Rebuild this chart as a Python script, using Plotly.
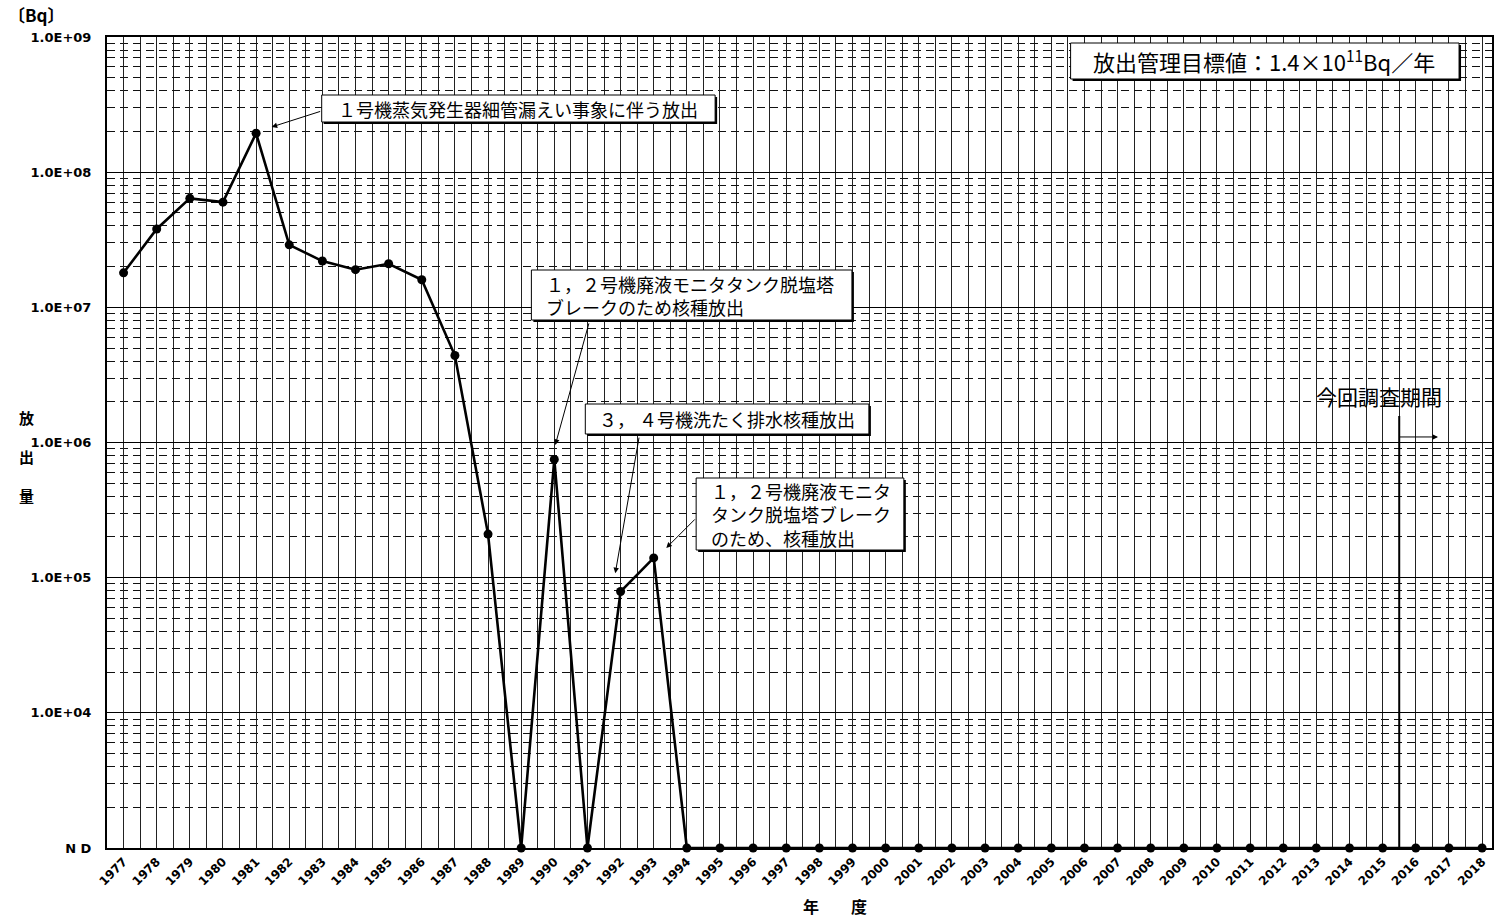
import math
import plotly.graph_objects as go

# Annual release (Bq); None = not detected (ND)
years = list(range(1977, 2019))
release = [1.8e7, 3.8e7, 6.4e7, 6.0e7, 1.94e8, 2.9e7, 2.2e7, 1.9e7, 2.1e7, 1.6e7,
           4.4e6, 2.1e5, None, 7.5e5, None, 7.9e4, 1.4e5] + [None] * 25

ND_LEVEL = 1e3
y_tickvals = [1e3, 1e4, 1e5, 1e6, 1e7, 1e8, 1e9]
y_ticktext = ["N D", "1.0E+04", "1.0E+05", "1.0E+06", "1.0E+07", "1.0E+08", "1.0E+09"]
x_ticktext = [str(y) for y in years]

plot_values = [v if v is not None else ND_LEVEL for v in release]

# plot-area pixel frame used to place boxes/text
L, R, T, B = 107, 1494, 37, 848
W, H = 1495, 919


def px(x):
    return (x - L) / (R - L)


def py(y):
    return (B - y) / (B - T)


CJK = "Noto Sans CJK JP"
LAT = "DejaVu Sans"

fig = go.Figure()
fig.add_trace(go.Scatter(
    x=years, y=plot_values, mode="lines+markers",
    line=dict(color="black", width=2.6),
    marker=dict(color="black", size=9),
    cliponaxis=False, showlegend=False, hoverinfo="skip",
))

fig.update_layout(
    width=W, height=H,
    margin=dict(l=L, r=W - R, t=T, b=H - B),
    paper_bgcolor="white", plot_bgcolor="white",
    font=dict(family=LAT, color="black"),
    xaxis=dict(
        type="linear", range=[1976.5, 2018.3],
        tickvals=years, ticktext=x_ticktext, tickangle=-45,
        tickfont=dict(family=LAT, size=12, color="black", weight="bold"),
        ticks="", showgrid=True, gridcolor="#222", gridwidth=1,
        minor=dict(dtick=1, tick0=1976.5, showgrid=True, gridcolor="#222", gridwidth=1, ticks=""),
        showline=True, linecolor="black", linewidth=2, mirror=True,
        zeroline=False, fixedrange=True, layer="below traces",
    ),
    yaxis=dict(
        type="log", range=[3 - 1e-6, 9],
        tickvals=y_tickvals, ticktext=y_ticktext,
        tickfont=dict(family=LAT, size=13, color="black", weight="bold"),
        ticks="", ticklabelstandoff=11,
        showgrid=True, gridcolor="black", gridwidth=1.2,
        minor=dict(dtick="D1", showgrid=True, gridcolor="#111", gridwidth=1,
                   griddash="8px,5px", ticks=""),
        showline=True, linecolor="black", linewidth=2, mirror=True,
        zeroline=False, fixedrange=True, layer="below traces",
    ),
)

shapes = []
annotations = []


def box(x0, y0, x1, y1):
    # drop shadow then white box with thin border
    shapes.append(dict(type="rect", xref="paper", yref="paper",
                       x0=px(x0 + 2), x1=px(x1 + 2), y0=py(y1 + 2), y1=py(y0 + 2),
                       fillcolor="black", line=dict(width=0), layer="above"))
    shapes.append(dict(type="rect", xref="paper", yref="paper",
                       x0=px(x0), x1=px(x1), y0=py(y1), y1=py(y0),
                       fillcolor="white", line=dict(color="black", width=1), layer="above"))


def label(text, x, y, size=17, xanchor="center", align="center", family=CJK, weight="normal"):
    annotations.append(dict(text=text, xref="paper", yref="paper", x=px(x), y=py(y),
                            xanchor=xanchor, yanchor="middle", align=align, showarrow=False,
                            font=dict(family=family, size=size, color="black", weight=weight)))


def arrow(year, value, ax, ay):
    annotations.append(dict(text="", x=year, y=math.log10(value), xref="x", yref="y",
                            ax=ax, ay=ay, axref="pixel", ayref="pixel",
                            showarrow=True, arrowhead=2, arrowsize=1.1, arrowwidth=1,
                            arrowcolor="black"))


# target value box
box(1072, 43, 1461, 79)
label("放出管理目標値：1.4×10<sup>11</sup>Bq／年", 1266, 61, size=22)

# event notes
box(322, 95, 716, 122)
label("１号機蒸気発生器細管漏えい事象に伴う放出", 519, 109, size=18)
arrow(1981.47, 2.16e8, 50, -16)

box(532, 270, 853, 320)
label("１，２号機廃液モニタタンク脱塩塔<br>ブレークのため核種放出", 545, 295,
      size=18, xanchor="left", align="left")
arrow(1990.03, 9.6e5, 34, -123)

box(586, 404, 870, 434)
label("３， ４号機洗たく排水核種放出", 728, 419, size=18)
arrow(1991.84, 1.08e5, 24, -137)

box(697, 478, 905, 550)
label("１，２号機廃液モニタ<br>タンク脱塩塔ブレーク<br>のため、核種放出", 710, 514,
      size=18, xanchor="left", align="left")
arrow(1993.38, 1.66e5, 30, -30)

# current survey period marker
shapes.append(dict(type="line", xref="x", yref="y", x0=2015.5, x1=2015.5,
                   y0=ND_LEVEL, y1=1.57e6, line=dict(color="black", width=2), layer="above"))
annotations.append(dict(text="", x=2016.67, y=6.041, xref="x", yref="y",
                        ax=-40, ay=0, axref="pixel", ayref="pixel",
                        showarrow=True, arrowhead=2, arrowsize=1.1, arrowwidth=1,
                        arrowcolor="black"))
label("今回調査期間", 1381, 396, size=21)

# axis titles
annotations.append(dict(text="〔Bq〕", xref="paper", yref="paper", x=px(6), y=py(15),
                        xanchor="left", yanchor="middle", showarrow=False,
                        font=dict(family=CJK, size=17, color="black", weight="bold")))
annotations.append(dict(text="放<br><br>出<br><br>量", xref="paper", yref="paper",
                        x=px(26), y=py(456), xanchor="center", yanchor="middle",
                        showarrow=False,
                        font=dict(family=CJK, size=15, color="black", weight="bold")))
annotations.append(dict(text="年　　度", xref="paper", yref="paper",
                        x=px(836), y=py(906), xanchor="center", yanchor="middle",
                        showarrow=False,
                        font=dict(family=CJK, size=16, color="black", weight="bold")))

fig.update_layout(shapes=shapes, annotations=annotations)
fig.write_html("out.html")
